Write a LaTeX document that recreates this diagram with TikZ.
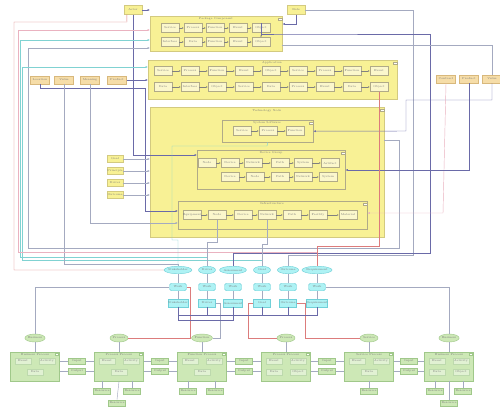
\documentclass[tikz,border=0pt]{standalone}
\usetikzlibrary{shapes.geometric,arrows.meta,calc}
\definecolor{yelfill}{HTML}{F8F195}
\definecolor{yelbd}{HTML}{D3CA80}
\definecolor{boxfill}{HTML}{FBF7CC}
\definecolor{boxbd}{HTML}{B0AA88}
\definecolor{orfill}{HTML}{F6DDA8}
\definecolor{orbd}{HTML}{D8B87C}
\definecolor{cyfill}{HTML}{AEF2F4}
\definecolor{cybd}{HTML}{70D0D8}
\definecolor{grfill}{HTML}{CDE8B6}
\definecolor{grbd}{HTML}{A0C88A}
\definecolor{lnR}{HTML}{DC7C7C}
\definecolor{lnP}{HTML}{6A6AA8}
\definecolor{lnT}{HTML}{80D2D2}
\definecolor{lnG}{HTML}{A4AAC0}
\definecolor{lnK}{HTML}{EAB2C0}
\definecolor{txt}{HTML}{777777}
\newcommand\tf{\fontsize{1.6}{1.9}\selectfont}
\begin{document}
\begin{tikzpicture}[x=0.02cm,y=-0.02cm,
  base/.style={inner sep=0, font=\tf, text=txt, line width=0.25pt},
  grp/.style={base, draw=yelbd, fill=yelfill, anchor=north west},
  sub/.style={base, draw=boxbd, fill=yelfill, anchor=north west},
  yb/.style={base, draw=boxbd, fill=boxfill, minimum width=0.36cm, minimum height=0.18cm},
  ys/.style={base, draw=yelbd, fill=yelfill, minimum width=0.32cm, minimum height=0.14cm},
  ob/.style={base, draw=orbd, fill=orfill, minimum width=0.38cm, minimum height=0.16cm},
  ce/.style={base, ellipse, draw=cybd, fill=cyfill, minimum width=0.34cm, minimum height=0.15cm},
  cb/.style={base, rounded corners=1pt, draw=cybd, fill=cyfill, minimum width=0.34cm, minimum height=0.15cm},
  cr/.style={base, draw=cybd, fill=cyfill, minimum width=0.34cm, minimum height=0.15cm},
  ge/.style={base, ellipse, draw=grbd, fill=grfill, minimum width=0.36cm, minimum height=0.16cm},
  gbig/.style={base, draw=grbd, fill=grfill, minimum width=0.98cm, minimum height=0.58cm},
  gin/.style={base, draw=grbd!70, fill=grfill!60!white, minimum width=0.32cm, minimum height=0.12cm},
  gs/.style={base, draw=grbd, fill=grfill, minimum width=0.34cm, minimum height=0.13cm},
  ttl/.style={base, anchor=north},
  icon/.style={base, draw=boxbd, fill=white, minimum width=0.07cm, minimum height=0.05cm},
  ln/.style={line width=0.25pt},
  sarr/.style={line width=0.2pt, draw=gray, -{Latex[length=1pt,width=0.9pt]}},
  arr/.style={-{Latex[length=1.4pt,width=1.2pt]}}
]
\useasboundingbox (0,0) rectangle (500,407);
\fill[white] (0,0) rectangle (500,407);

% ---------- groups ----------
\node[grp, minimum width=2.64cm, minimum height=0.70cm] (G1) at (150,16) {};
\node[ttl] at (216,17.5) {Package Component};
\node[grp, minimum width=4.98cm, minimum height=0.78cm] (G2) at (148,60) {};
\node[ttl] at (272,61.5) {Application};
\node[grp, minimum width=4.68cm, minimum height=2.60cm] (G3) at (150,107) {};
\node[ttl] at (267,109) {Technology Node};
\node[sub, minimum width=1.82cm, minimum height=0.44cm] (S1) at (222,120) {};
\node[ttl] at (267,121.5) {System Software};
\node[sub, minimum width=2.96cm, minimum height=0.78cm] (S2) at (197,150) {};
\node[ttl] at (271,151.5) {Device Group};
\node[sub, minimum width=3.78cm, minimum height=0.56cm] (S3) at (178,201) {};
\node[ttl] at (272,202.5) {Infrastructure};
\foreach \p in {(280,19),(395,63),(382,110),(311,123),(343,153),(365,204)} \node[icon] at \p {};

% ---------- actors ----------
\node[ys, minimum width=0.36cm, minimum height=0.18cm] (A1) at (133,10) {Actor};
\node[ys, minimum width=0.36cm, minimum height=0.18cm] (A2) at (296,10) {Role};

% ---------- G1 boxes ----------
\foreach \x/\t [count=\i] in {170/Service,193/Process,215/Function,238/Event,261/Object}
  \node[yb] (pa\i) at (\x,28) {\t};
\foreach \x/\t [count=\i] in {170/Interface,193/Data,215/Function,238/Event,261/Object}
  \node[yb] (pb\i) at (\x,42) {\t};
\foreach \i/\j in {1/2,2/3,3/4,4/5} {\draw[sarr] (pa\i) -- (pa\j); \draw[sarr] (pb\i) -- (pb\j);}
\draw[sarr] (pa5) -- (pb5);

% ---------- G2 boxes ----------
\foreach \x/\t [count=\i] in {163/Service,190/Process,217/Function,244/Event,271/Object,298/Service,325/Process,352/Function,379/Event}
  \node[yb] (qa\i) at (\x,71) {\t};
\foreach \x/\t [count=\i] in {163/Data,190/Interface,217/Object,244/Service,271/Data,298/Process,325/Event,352/Data,379/Object}
  \node[yb] (qb\i) at (\x,87) {\t};
\foreach \i/\j in {1/2,2/3,3/4,4/5,5/6,6/7,7/8,8/9} {\draw[sarr] (qa\i) -- (qa\j); \draw[sarr] (qb\i) -- (qb\j);}

% ---------- G3 boxes ----------
\foreach \x/\t [count=\i] in {242/Service,268/Process,295/Function}
  \node[yb] (ra\i) at (\x,131) {\t};
\foreach \i/\j in {1/2,2/3} \draw[sarr] (ra\i) -- (ra\j);
\foreach \x/\t [count=\i] in {207/Node,230/Device,253/Network,280/Path,303/System,330/Artifact}
  \node[yb] (sa\i) at (\x,163) {\t};
\foreach \x/\t [count=\i] in {230/Device,255/Node,280/Path,303/Network,328/System}
  \node[yb] (sb\i) at (\x,177) {\t};
\foreach \i/\j in {1/2,2/3,3/4,4/5,5/6} \draw[sarr] (sa\i) -- (sa\j);
\foreach \i/\j in {1/2,2/3,3/4,4/5} \draw[sarr] (sb\i) -- (sb\j);
\foreach \x/\t [count=\i] in {192/Equipment,217/Node,243/Device,267/Network,292/Path,318/Facility,348/Material}
  \node[yb] (ta\i) at (\x,215) {\t};
\foreach \i/\j in {1/2,2/3,3/4,4/5,5/6,6/7} \draw[sarr] (ta\i) -- (ta\j);

% ---------- left yellow & orange boxes ----------
\foreach \y/\t [count=\i] in {159/Goal,171/Principle,183/Driver,195/Outcome}
  \node[ys] (ly\i) at (115,\y) {\t};
\foreach \x/\t [count=\i] in {40/Location,64/Value,90/Meaning,117/Product}
  \node[ob] (ob\i) at (\x,80) {\t};
\foreach \x/\t [count=\i] in {446/Contract,469/Product,492/Value}
  \node[ob] (ob\the\numexpr\i+4\relax) at (\x,79) {\t};

% ---------- cyan elements ----------
\foreach \x/\t [count=\i] in {178/Stakeholder,207/Driver,233/Assessment,262/Goal,288/Outcome,317/Requirement} {
  \node[ce] (ce\i) at (\x,270) {\t};
  \node[cb] (cb\i) at (\x,287) {Work};
  \node[cr] (cr\i) at (\x,303) {\t};
  \draw[ln, lnG] (ce\i) -- (cb\i);
  \draw[ln, lnG] (cb\i) -- (cr\i);
}

% ---------- green elements ----------
\foreach \x/\t [count=\i] in {35/Business,119/Process,202/Function,286/Process,369/Service,449/Business} {
  \node[ge] (ge\i) at (\x,338) {\t};
  \node[gbig] (GR\i) at (\x,366.5) {};
  \node[ttl] at (\x,353.5) {\t\ Process};
  \node[icon, draw=grbd] at ($(GR\i.north east)+(-3,2.5)$) {};
  \node[gin] (gi\i a) at ($(\x,361)+(-12,0)$) {Event};
  \node[gin] (gi\i b) at ($(\x,361)+(12,0)$) {Activity};
  \draw[ln, lnG] (ge\i) -- (GR\i);
}
\foreach \i in {1,2,3,5} \node[gin] at (GR\i |- 0,372) {Data};
\foreach \i in {4,6} {\node[gin] at ($(GR\i |- 0,372)+(-12,0)$) {Data}; \node[gin] at ($(GR\i |- 0,372)+(12,0)$) {Object};}
\foreach \x [count=\i] in {77,160,244,327,409} {
  \node[gs] (gsa\i) at (\x,361) {Input};
  \node[gs] (gsb\i) at (\x,371) {Output};
}
\foreach \i/\j in {1/2,2/3,3/4,4/5,5/6} {
  \draw[ln, lnG] (GR\i.east |- gsa\i) -- (gsa\i.west);
  \draw[ln, lnG] (gsa\i.east) -- (GR\j.west |- gsa\i);
  \draw[ln, lnG] (GR\i.east |- gsb\i) -- (gsb\i.west);
  \draw[ln, lnG] (gsb\i.east) -- (GR\j.west |- gsb\i);
}
\foreach \x/\y [count=\i] in {102/391,132/391,117/403,188/391,215/391,369/391,435/391,463/391,449/403} {
  \node[gs] (gd\i) at (\x,\y) {Resource};
}
\foreach \i/\k in {1/2,2/2,4/3,5/3,6/5,7/6,8/6}
  \draw[ln, lnG] (gd\i.north |- GR\k.south) -- (gd\i.north);
\draw[ln, lnG] (GR2.south) -- (gd3.north);
\draw[ln, lnG] (GR6.south) -- (gd9.north);

% ---------- cyan to green connectors ----------
\draw[ln, lnG] (cb1.west) -- (35,287) -- (ge1.north);
\draw[ln, lnG] (cb6.east) -- (449,287) -- (ge6.north);
\draw[ln, lnR] (ge2.east) -- (ge3.west);
\draw[ln, lnR] (cb1.east) -- (190,287) -- (190,338) -- (ge3.west);
\draw[ln, lnG] (cr2.east) -- (220,303) -- (220,338) -- (ge3.east);
\draw[ln, lnR] (cr4.west) -- (248,303) -- (248,338) -- (ge4.west);
\draw[ln, lnR] (cr5.east) -- (305,303) -- (305,338) -- (ge5.west);
\draw[ln, lnP] (cr1.south) -- (178,315) -- (317,315) -- (cr6.south);
\foreach \i in {2,...,5} \draw[ln, lnP] (cr\i.south) -- (cr\i.south |- 0,315);
\draw[ln, lnP] (cr1.south) -- (178,320) -- (233,320) -- (cr3.south);

% ---------- upper connectors ----------
\draw[ln, lnR] (ce1.west) -- (14,270) -- (14,22) -- (127,22) -- ($(A1.south west)+(3,0)$);
\draw[ln, lnP, arr] (A1.south) -- (133,155) -- (S2.west |- 0,155);
\draw[ln, lnP, arr] (A1.east) -- (G1.west |- A1.east);
\draw[ln, lnT, arr] (ce2.north) |- (20,257) -- (20,40) -- (G1.west |- 0,40);
\draw[ln, lnG, arr] (G3.east |- 0,140) -- (399,140) -- (399,248) -- (28,248) -- (28,48) -- (G1.west |- 0,48);
\draw[ln, lnT, arr] (ce4.north) |- (22,260) -- (22,67) -- (G2.west |- 0,67);
\draw[ln, lnP, arr] (ob1.south) -- (40,88) -- (145,88) -- (145,211) -- (S3.west |- 0,211);
\draw[ln, lnG, arr] (ob3.south) -- (90,223) -- (S3.west |- 0,223);
\draw[ln, lnP, arr] (ob4.east) -- (G2.west |- ob4.east);
\draw[ln, lnG] (ce1.north) |- (64,264) -- (ob2.south);
\draw[ln, lnK, arr] (ce6.north) |- (18,252) -- (18,30) -- (G1.west |- 0,30);
\foreach \i in {1,...,4} \draw[ln, lnG, arr] (ly\i.east) -- (G3.west |- ly\i.east);
\draw[ln, lnP, arr] (A2.south) -- (296,24) -- (G1.east |- 0,24);
\draw[ln, lnG] (A2.east) -- (413,10) -- (413,255) -- (288,255) -- (ce5.north);
\draw[ln, lnP] (pa5.north) |- (286,34) -- (430,34) -- (430,253) -- (233,253) -- (ce3.north);
\draw[ln, lnG] (ob7.north) -- (492,45) -- (G1.east |- 0,45);
\draw[ln, lnP, arr] (ob7.south) -- (492,100) -- (406,100) -- (406,131) -- (S1.east);
\draw[ln, lnK, arr] (ob5.south) -- (443,213) -- (S3.east |- 0,213);
\draw[ln, lnP, arr] (ob6.south) -- (469,170) -- (S2.east |- 0,170);
\draw[ln, lnR] (qb9.south) -- (379,246) -- (317,246) -- (ce6.north);
\draw[ln, lnG] (ta2.south) -- (217,242) -- (207,242) -- (ce2.north);
\draw[ln, lnG] (ta4.south) -- (267,244) -- (262,244) -- (ce4.north);
\draw[ln, lnT] (S1.south) -- (267,146) -- (172,146) -- (172,240) -- (178,240) -- (ce1.north);
\end{tikzpicture}
\end{document}
